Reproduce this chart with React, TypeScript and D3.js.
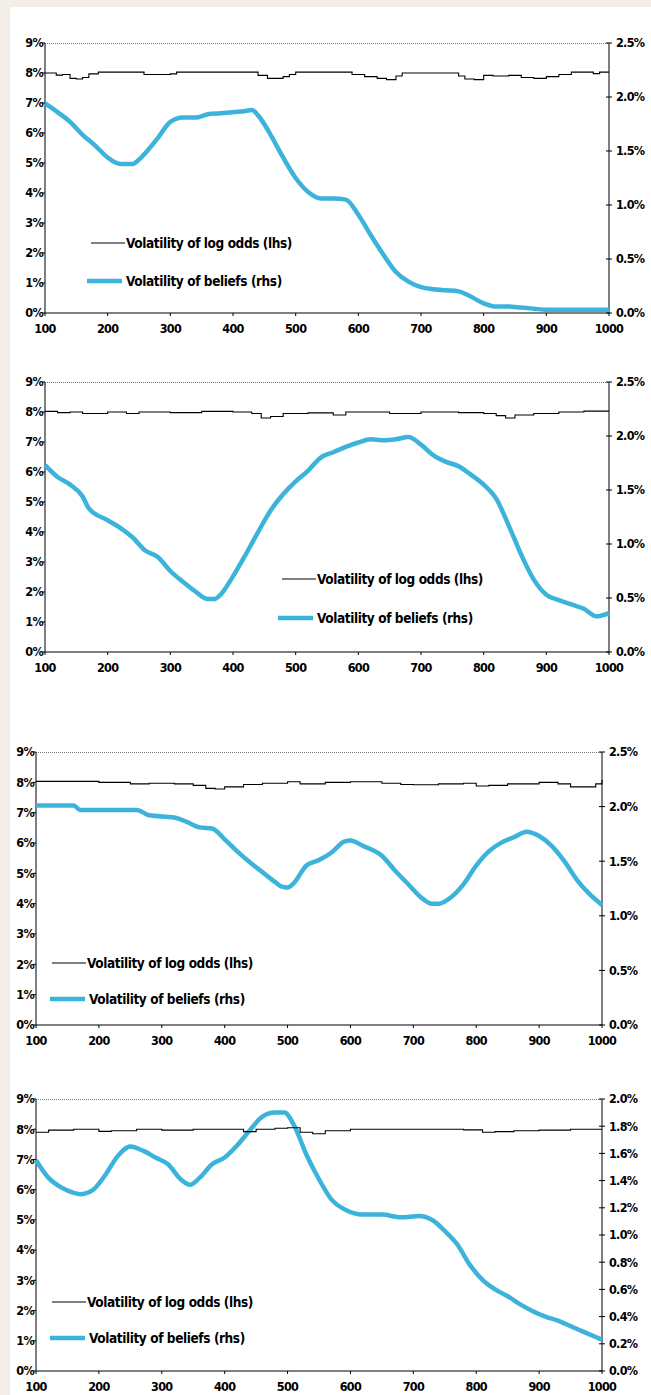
import React, { useEffect, useRef } from 'react';
import * as d3 from 'd3';

// ---- data ----
const xTicks = [100, 200, 300, 400, 500, 600, 700, 800, 900, 1000];
const lhsTicks = [0, 1, 2, 3, 4, 5, 6, 7, 8, 9];
const rhsTicksA = [0, 0.5, 1.0, 1.5, 2.0, 2.5];
const rhsTicksB = [0, 0.2, 0.4, 0.6, 0.8, 1.0, 1.2, 1.4, 1.6, 1.8, 2.0];
const legendLabels = ['Volatility of log odds (lhs)', 'Volatility of beliefs (rhs)'];

// panel 1
const oddsX1 = [100, 112, 118, 128, 140, 150, 160, 170, 185, 250, 258, 275, 300, 310, 430, 440, 455, 470, 480, 490, 500, 570, 590, 610, 630, 645, 660, 670, 750, 760, 770, 785, 800, 815, 840, 860, 880, 900, 920, 940, 965, 975, 985, 1000];
const odds1 = [8.0, 8.0, 7.93, 7.95, 7.82, 7.8, 7.85, 7.97, 8.03, 8.03, 7.95, 7.95, 7.97, 8.03, 8.03, 7.92, 7.82, 7.82, 7.88, 7.95, 8.03, 8.03, 7.95, 7.88, 7.82, 7.78, 7.9, 8.0, 8.0, 7.9, 7.8, 7.78, 7.92, 7.9, 7.92, 7.85, 7.82, 7.88, 7.95, 8.03, 8.03, 7.98, 8.03, 8.03];
const beliefX1 = [100, 120, 140, 160, 180, 200, 210, 220, 240, 250, 260, 280, 300, 320, 340, 360, 380, 400, 420, 430, 440, 460, 480, 500, 520, 540, 560, 580, 600, 620, 640, 660, 680, 700, 720, 740, 760, 780, 800, 820, 840, 860, 880, 900, 950, 1000];
const beliefs1 = [1.94, 1.86, 1.77, 1.65, 1.55, 1.44, 1.4, 1.38, 1.38, 1.42, 1.48, 1.62, 1.77, 1.81, 1.81, 1.84, 1.85, 1.86, 1.87, 1.88, 1.83, 1.65, 1.44, 1.25, 1.12, 1.06, 1.06, 1.05, 0.91, 0.72, 0.54, 0.38, 0.29, 0.24, 0.22, 0.21, 0.2, 0.15, 0.09, 0.06, 0.06, 0.05, 0.04, 0.03, 0.03, 0.03];

// panel 2
const oddsX2 = [100, 120, 140, 160, 200, 230, 250, 300, 350, 400, 430, 445, 460, 480, 520, 560, 580, 600, 650, 700, 760, 800, 820, 835, 850, 880, 920, 960, 1000];
const odds2 = [8.02, 7.98, 8.0, 7.95, 8.0, 7.95, 8.0, 7.98, 8.02, 8.0, 7.95, 7.8, 7.85, 7.95, 7.97, 7.9, 8.0, 8.0, 7.95, 8.0, 7.98, 7.95, 7.88, 7.8, 7.9, 7.95, 8.0, 8.03, 8.03];
const beliefX2 = [100, 120, 140, 160, 170, 200, 220, 240, 260, 280, 300, 320, 340, 360, 370, 380, 400, 420, 440, 460, 480, 500, 520, 540, 560, 580, 600, 620, 640, 660, 680, 700, 720, 740, 760, 780, 800, 820, 840, 860, 880, 900, 920, 940, 960, 980, 1000];
const beliefs2 = [1.73, 1.62, 1.55, 1.44, 1.33, 1.22, 1.15, 1.06, 0.94, 0.88, 0.75, 0.65, 0.56, 0.49, 0.49, 0.53, 0.7, 0.9, 1.11, 1.31, 1.46, 1.58, 1.68, 1.8, 1.85, 1.9, 1.94, 1.97, 1.96, 1.97, 1.99, 1.92, 1.82, 1.76, 1.72, 1.64, 1.55, 1.42, 1.17, 0.9, 0.67, 0.53, 0.48, 0.44, 0.4, 0.33, 0.36];

// panel 3
const oddsX3 = [100, 150, 200, 250, 280, 320, 350, 370, 385, 400, 430, 460, 500, 520, 560, 600, 650, 680, 700, 740, 780, 800, 820, 850, 900, 930, 950, 970, 990, 1000];
const odds3 = [8.03, 8.03, 8.0, 7.95, 7.97, 7.95, 7.9, 7.8, 7.78, 7.85, 7.93, 7.97, 8.02, 7.95, 8.0, 8.02, 7.97, 7.93, 7.92, 7.95, 7.97, 7.88, 7.9, 7.95, 8.0, 7.95, 7.85, 7.85, 7.95, 8.08];
const beliefX3 = [100, 160, 170, 260, 280, 320, 340, 360, 380, 400, 420, 440, 460, 480, 490, 500, 510, 530, 550, 570, 590, 600, 620, 650, 670, 690, 710, 730, 740, 760, 780, 800, 820, 840, 860, 880, 900, 920, 940, 960, 980, 1000];
const beliefs3 = [2.01, 2.01, 1.97, 1.97, 1.92, 1.9, 1.86, 1.81, 1.8, 1.7, 1.59, 1.49, 1.4, 1.31, 1.27, 1.26, 1.3, 1.46, 1.51, 1.58, 1.68, 1.69, 1.64, 1.55, 1.42, 1.3, 1.18, 1.11, 1.11, 1.17, 1.29, 1.46, 1.59, 1.67, 1.72, 1.77, 1.73, 1.64, 1.5, 1.33, 1.2, 1.1];

// panel 4
const oddsX4 = [100, 120, 160, 200, 220, 260, 300, 350, 400, 430, 450, 480, 500, 520, 540, 560, 600, 700, 780, 810, 830, 860, 900, 950, 1000];
const odds4 = [7.9, 7.97, 8.0, 7.93, 7.95, 8.0, 7.97, 8.0, 8.0, 7.92, 8.0, 8.03, 8.05, 7.9, 7.85, 7.95, 8.0, 8.0, 7.98, 7.9, 7.92, 7.95, 7.97, 8.0, 8.0];
const beliefX4 = [100, 120, 140, 160, 170, 190, 210, 230, 250, 270, 290, 310, 330, 345, 360, 380, 400, 420, 440, 460, 480, 495, 510, 530, 550, 570, 590, 620, 650, 680, 710, 730, 750, 770, 790, 810, 830, 850, 870, 890, 910, 930, 950, 970, 990, 1000];
const beliefs4 = [1.55, 1.42, 1.35, 1.31, 1.3, 1.33, 1.44, 1.58, 1.65, 1.62, 1.57, 1.52, 1.41, 1.37, 1.42, 1.52, 1.57, 1.66, 1.77, 1.87, 1.9, 1.9, 1.81, 1.59, 1.41, 1.26, 1.19, 1.15, 1.15, 1.13, 1.14, 1.11, 1.03, 0.93, 0.78, 0.67, 0.6, 0.55, 0.49, 0.44, 0.4, 0.37, 0.33, 0.29, 0.25, 0.23];

const BLUE = '#3cb3da';
const FONT = "'DejaVu Sans Condensed', 'DejaVu Sans', sans-serif";

// layout of the four panels on the page
const panels = [
  { left: 45, right: 609, top: 43, bottom: 313, rhsMax: 2.5, rhsTicks: rhsTicksA, oddsX: oddsX1, odds: odds1, beliefX: beliefX1, beliefs: beliefs1, leg: { x1: 91, y1: 243, x2: 87, y2: 281 } },
  { left: 45, right: 609, top: 382, bottom: 652, rhsMax: 2.5, rhsTicks: rhsTicksA, oddsX: oddsX2, odds: odds2, beliefX: beliefX2, beliefs: beliefs2, leg: { x1: 282, y1: 579, x2: 278, y2: 618 } },
  { left: 36, right: 602, top: 752, bottom: 1025, rhsMax: 2.5, rhsTicks: rhsTicksA, oddsX: oddsX3, odds: odds3, beliefX: beliefX3, beliefs: beliefs3, leg: { x1: 52, y1: 963, x2: 50, y2: 999 } },
  { left: 36, right: 602, top: 1099, bottom: 1371, rhsMax: 2.0, rhsTicks: rhsTicksB, oddsX: oddsX4, odds: odds4, beliefX: beliefX4, beliefs: beliefs4, leg: { x1: 52, y1: 1302, x2: 50, y2: 1338 } },
];

export default function App() {
  const ref = useRef<SVGSVGElement>(null);

  useEffect(() => {
    const svg = d3.select(ref.current);
    svg.selectAll('*').remove();

    // page background: beige frame on the left and top
    svg.append('rect').attr('width', 651).attr('height', 1395).attr('fill', '#f2eee7');
    svg.append('rect').attr('x', 10).attr('y', 7).attr('width', 641).attr('height', 1388).attr('fill', '#fff');

    panels.forEach(p => {
      const g = svg.append('g');
      const x = d3.scaleLinear().domain([100, 1000]).range([p.left, p.right]);
      const yl = d3.scaleLinear().domain([0, 9]).range([p.bottom, p.top]);
      const yr = d3.scaleLinear().domain([0, p.rhsMax]).range([p.bottom, p.top]);

      // dotted top border
      g.append('line')
        .attr('x1', p.left).attr('x2', p.right)
        .attr('y1', p.top + 0.5).attr('y2', p.top + 0.5)
        .attr('stroke', '#777').attr('stroke-dasharray', '1,1');

      const text = (sel: any) =>
        sel.attr('font-family', FONT).attr('font-weight', 'bold').attr('font-size', 12.5)
          .attr('letter-spacing', -0.7).attr('fill', '#000');

      // left axis
      const la = g.append('g');
      la.append('line').attr('x1', p.left).attr('x2', p.left).attr('y1', p.top).attr('y2', p.bottom).attr('stroke', '#000');
      lhsTicks.forEach(t => {
        la.append('line').attr('x1', p.left - 3).attr('x2', p.left).attr('y1', yl(t)).attr('y2', yl(t)).attr('stroke', '#000');
        text(la.append('text'))
          .attr('x', p.left - 2).attr('y', yl(t)).attr('dy', '0.35em').attr('text-anchor', 'end')
          .text(`${t}%`);
      });

      // right axis
      const ra = g.append('g');
      ra.append('line').attr('x1', p.right).attr('x2', p.right).attr('y1', p.top).attr('y2', p.bottom).attr('stroke', '#000');
      const fr = d3.format('.1f');
      p.rhsTicks.forEach(t => {
        ra.append('line').attr('x1', p.right - 3).attr('x2', p.right + 3).attr('y1', yr(t)).attr('y2', yr(t)).attr('stroke', '#000');
        text(ra.append('text'))
          .attr('x', p.right + 7).attr('y', yr(t)).attr('dy', '0.35em')
          .text(`${fr(t)}%`);
      });

      // bottom axis
      const ba = g.append('g');
      ba.append('line').attr('x1', p.left).attr('x2', p.right).attr('y1', p.bottom).attr('y2', p.bottom).attr('stroke', '#000');
      xTicks.forEach(t => {
        ba.append('line').attr('x1', x(t)).attr('x2', x(t)).attr('y1', p.bottom).attr('y2', p.bottom + 3).attr('stroke', '#000');
        text(ba.append('text'))
          .attr('x', x(t)).attr('y', p.bottom + 16).attr('dy', '0.35em').attr('text-anchor', 'middle')
          .text(t);
      });

      // beliefs (rhs)
      const lineR = d3.line<number>().x((d, i) => x(p.beliefX[i])).y(d => yr(d)).curve(d3.curveMonotoneX);
      g.append('path').attr('d', lineR(p.beliefs) as string)
        .attr('fill', 'none').attr('stroke', BLUE).attr('stroke-width', 4.5).attr('stroke-linejoin', 'round');

      // log odds (lhs)
      const lineL = d3.line<number>().x((d, i) => x(p.oddsX[i])).y(d => yl(d)).curve(d3.curveStepAfter);
      g.append('path').attr('d', lineL(p.odds) as string)
        .attr('fill', 'none').attr('stroke', '#000').attr('stroke-width', 1.1);

      // legend
      const lg = g.append('g');
      lg.append('line').attr('x1', p.leg.x1).attr('x2', p.leg.x1 + 34).attr('y1', p.leg.y1).attr('y2', p.leg.y1)
        .attr('stroke', '#000').attr('stroke-width', 1.1);
      lg.append('line').attr('x1', p.leg.x2).attr('x2', p.leg.x2 + 35).attr('y1', p.leg.y2).attr('y2', p.leg.y2)
        .attr('stroke', BLUE).attr('stroke-width', 4.5);
      text(lg.append('text')).attr('font-size', 13.5).attr('letter-spacing', -0.4)
        .attr('x', p.leg.x1 + 35).attr('y', p.leg.y1).attr('dy', '0.35em').text(legendLabels[0]);
      text(lg.append('text')).attr('font-size', 13.5).attr('letter-spacing', -0.4)
        .attr('x', p.leg.x2 + 39).attr('y', p.leg.y2).attr('dy', '0.35em').text(legendLabels[1]);
    });
  }, []);

  return (
    <div style={{ position: 'absolute', left: 0, top: 0 }}>
      <svg ref={ref} width={651} height={1395} style={{ display: 'block' }} />
    </div>
  );
}
